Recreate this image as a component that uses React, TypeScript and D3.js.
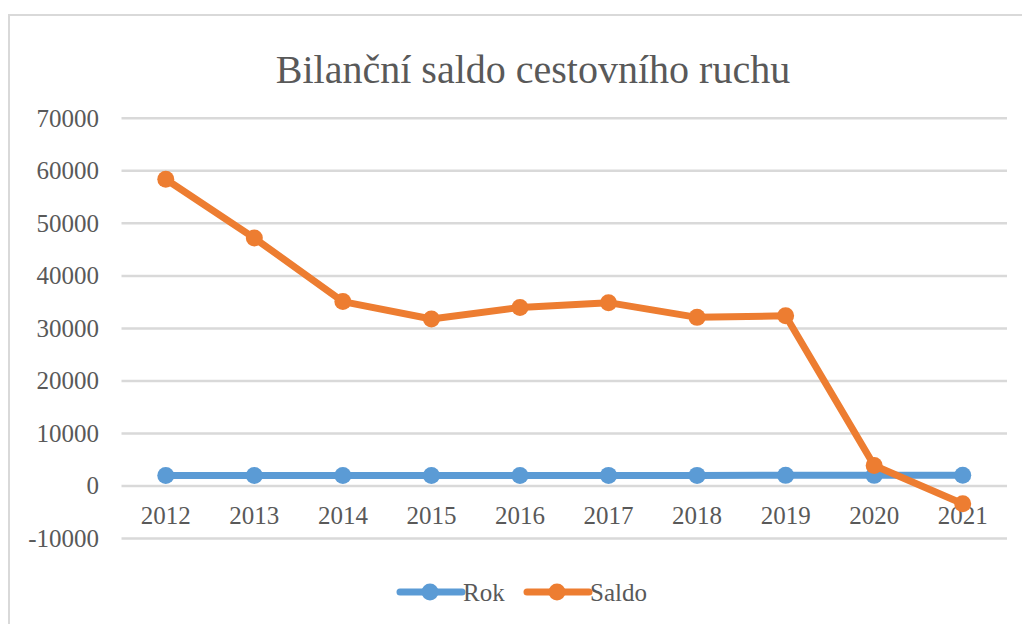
import React from "react";
import * as d3 from "d3";

const years = ["2012", "2013", "2014", "2015", "2016", "2017", "2018", "2019", "2020", "2021"];
const rokValues = [2012, 2013, 2014, 2015, 2016, 2017, 2018, 2019, 2020, 2021];
const saldoValues = [58400, 47200, 35100, 31800, 34000, 34900, 32100, 32400, 3900, -3400];
const yTicks = [-10000, 0, 10000, 20000, 30000, 40000, 50000, 60000, 70000];
const seriesNames = ["Rok", "Saldo"];
const seriesColors = ["#5b9bd5", "#ed7d31"];
const title = "Bilanční saldo cestovního ruchu";

export default function App() {
  const W = 1022;
  const H = 624;
  const x = d3.scaleBand<string>().domain(years).range([121.5, 1007]);
  const y = d3.scaleLinear().domain([-10000, 70000]).range([538.5, 118.3]);
  const cx = (d: string) => (x(d) as number) + x.bandwidth() / 2;
  const line = d3
    .line<number>()
    .x((_, i) => cx(years[i]))
    .y((v) => y(v));
  const series = [rokValues, saldoValues];
  const fontStyle = { fontFamily: '"Liberation Serif"' };
  const legendX = [400, 527];
  return (
    <svg width={W} height={H} style={{ position: "absolute", left: 0, top: 0, background: "#fff" }}>
      <rect x={0} y={0} width={W} height={H} fill="#fff" />
      <path d={`M9,${H} V15 H${W}`} fill="none" stroke="#d9d9d9" strokeWidth={2} />
      <text x={533} y={83} textAnchor="middle" fontSize={40} fill="#595959" style={fontStyle}>
        {title}
      </text>
      {yTicks.map((t) => (
        <g key={t}>
          <line x1={121.5} x2={1007} y1={y(t)} y2={y(t)} stroke="#d9d9d9" strokeWidth={2.5} />
          <text x={99} y={y(t) + 8.5} textAnchor="end" fontSize={25} fill="#595959" style={fontStyle}>
            {t}
          </text>
        </g>
      ))}
      {years.map((yr) => (
        <text key={yr} x={cx(yr)} y={524} textAnchor="middle" fontSize={25} fill="#595959" style={fontStyle}>
          {yr}
        </text>
      ))}
      {series.map((vals, si) => (
        <g key={si}>
          <path
            d={line(vals) as string}
            fill="none"
            stroke={seriesColors[si]}
            strokeWidth={7}
            strokeLinejoin="round"
            strokeLinecap="round"
          />
          {vals.map((v, i) => (
            <circle key={i} cx={cx(years[i])} cy={y(v)} r={8.5} fill={seriesColors[si]} />
          ))}
        </g>
      ))}
      {seriesNames.map((name, si) => (
        <g key={name}>
          <line
            x1={legendX[si]}
            x2={legendX[si] + 62}
            y1={592}
            y2={592}
            stroke={seriesColors[si]}
            strokeWidth={7}
            strokeLinecap="round"
          />
          <circle cx={legendX[si] + 30} cy={592} r={8.5} fill={seriesColors[si]} />
          <text x={legendX[si] + 63} y={600.5} fontSize={25} fill="#595959" style={fontStyle}>
            {name}
          </text>
        </g>
      ))}
    </svg>
  );
}
